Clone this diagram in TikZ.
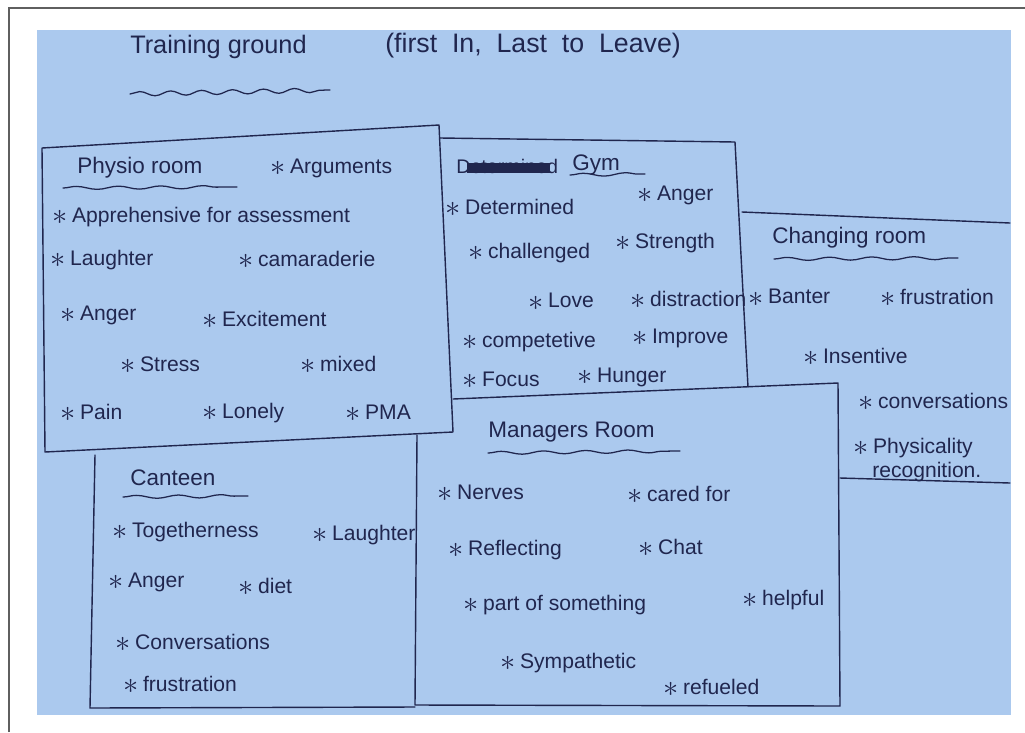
\documentclass[tikz,border=0pt]{standalone}
\usepackage{fontspec}
\setmainfont{Liberation Sans}
\usetikzlibrary{decorations.pathmorphing}
\definecolor{paper}{RGB}{171,201,238}
\definecolor{ink}{RGB}{32,38,78}
\definecolor{framegray}{RGB}{95,95,95}
\newcommand{\bul}{\raisebox{-0.12em}{\scalebox{1.5}{$\ast$}}\hspace{0.22em}}

\begin{document}
\begin{tikzpicture}[x=0.025cm,y=-0.025cm,
  wall/.style={ink, line width=1pt, line join=round, line cap=round},
  item/.style={anchor=west, inner sep=0pt, text=ink, font=\fontsize{15}{18}\selectfont},
  heading/.style={item, font=\fontsize{16}{19}\selectfont},
  underline/.style={ink, line width=0.9pt, line cap=round, decorate,
    decoration={snake, amplitude=1.1pt, segment length=30pt}}]
\useasboundingbox (0,0) rectangle (1025,732);
\draw[framegray, line width=1.2pt] (9,732) -- (9,8) -- (1025,8); % photo frame
\fill[paper] (37,30) rectangle (1011,715); % the sheet

% title
\node[heading, font=\fontsize{18}{21}\selectfont] (title) at (130,47) {Training ground};
\node[heading, font=\fontsize{19}{22}\selectfont] (titlenote) at (385,46)
  {(first\ \ In,\ \ Last\ \ to\ \ Leave)};
\draw[underline, decoration={segment length=22pt, amplitude=1.6pt}] (130,94) -- (330,90);

% walls
\draw[wall] (42,148) -- (439,125) -- (453,432) -- (45,452) -- cycle; % physio
\draw[wall] (440,138) -- (735,142) -- (748,387); % gym
\draw[wall] (453,399) -- (838,383) -- (840,706) -- (415,705) -- (417,435); % managers
\draw[wall] (95,455) -- (90,708) -- (415,707); % canteen
\draw[wall] (742,212) -- (1010,223); % changing room top
\draw[wall] (840,478) -- (1010,483); % changing room bottom

% physio room
\node[heading] (physio) at (77,168) {Physio room};
\draw[underline] (63,188) -- (237,187);
\foreach \x/\y/\t [count=\i] in {270/168/Arguments, 52/217/Apprehensive for assessment,
    50/260/Laughter, 238/260/camaraderie, 60/315/Anger, 202/320/Excitement,
    120/365/Stress, 300/365/mixed, 60/413/Pain, 202/413/Lonely, 345/413/PMA}
  \node[item] (phy\i) at (\x,\y) {\bul\t};

% gym
\node[heading, font=\fontsize{14}{17}\selectfont] (gymx) at (456,166) {Determined};
\draw[ink, line width=7pt] ([xshift=8pt,yshift=-1.5pt]gymx.west) -- ([xshift=-6pt,yshift=-1.5pt]gymx.east);
\node[heading] (gym) at (572,165) {Gym};
\draw[underline] (570,175) -- (645,174);
\foreach \x/\y/\t [count=\i] in {445/208/Determined, 637/195/Anger, 468/253/challenged,
    615/243/Strength, 528/302/Love, 630/300/distraction, 462/342/competetive,
    632/338/Improve, 462/380/Focus, 577/377/Hunger}
  \node[item] (gym\i) at (\x,\y) {\bul\t};

% changing room
\node[heading] (changing) at (772,238) {Changing room};
\draw[underline] (774,259) -- (958,258);
\foreach \x/\y/\t [count=\i] in {748/298/Banter, 880/298/frustration, 803/357/Insentive,
    858/402/conversations, 853/448/Physicality}
  \node[item] (chg\i) at (\x,\y) {\bul\t};
\node[item] (chg6) at (872,472) {recognition.};

% canteen
\node[heading] (canteen) at (130,478) {Canteen};
\draw[underline] (123,497) -- (248,496);
\foreach \x/\y/\t [count=\i] in {112/532/Togetherness, 312/535/Laughter, 108/582/Anger,
    238/587/diet, 115/643/Conversations, 123/685/frustration}
  \node[item] (can\i) at (\x,\y) {\bul\t};

% managers room
\node[heading] (managers) at (488,432) {Managers Room};
\draw[underline] (488,453) -- (680,451);
\foreach \x/\y/\t [count=\i] in {437/493/Nerves, 627/495/cared for, 448/550/Reflecting,
    638/548/Chat, 463/605/part of something, 742/600/helpful, 500/663/Sympathetic,
    663/688/refueled}
  \node[item] (man\i) at (\x,\y) {\bul\t};
\end{tikzpicture}
\end{document}
